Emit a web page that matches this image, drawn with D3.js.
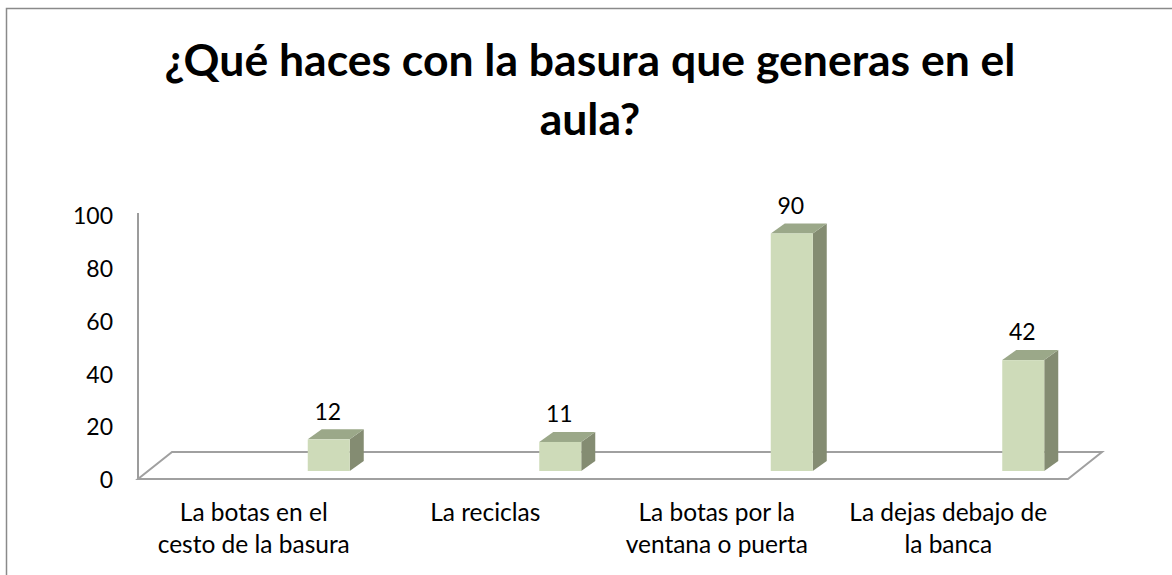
<!DOCTYPE html>
<html lang="es">
  <head>
    <meta charset="UTF-8" />
    <title>basura</title>
    <script src="https://cdn.jsdelivr.net/npm/d3@7"></script>
    <style>
      body { margin: 0; background: #fff; }
      text { font-family: Lato, 'Noto Sans', sans-serif; fill: #000; }
    </style>
  </head>
  <body>
    <svg width="1172" height="575"></svg>
  </body>

  <script>
    // datos del gráfico
    var categories = [
      'La botas en el cesto de la basura',
      'La reciclas',
      'La botas por la ventana o puerta',
      'La dejas debajo de la banca'
    ];
    var categoryLines = [
      ['La botas en el', 'cesto de la basura'],
      ['La reciclas'],
      ['La botas por la', 'ventana o puerta'],
      ['La dejas debajo de', 'la banca']
    ];
    var values = [12, 11, 90, 42];
    var yTicks = [0, 20, 40, 60, 80, 100];
    var titleLines = ['¿Qué haces con la basura que generas en el', 'aula?'];

    var svg = d3.select('svg');

    // marco exterior
    svg.append('rect')
      .attr('x', 6.5).attr('y', 8.5)
      .attr('width', 1300).attr('height', 700)
      .attr('fill', 'none')
      .attr('stroke', '#8a8a8a')
      .attr('stroke-width', 1.5);

    // titulo
    svg.append('text')
      .attr('text-anchor', 'middle')
      .attr('font-size', 44.5)
      .attr('font-weight', 'bold')
      .selectAll('tspan')
      .data(titleLines)
      .enter()
      .append('tspan')
      .attr('x', 590)
      .attr('y', function (d, i) { return 76 + i * 59; })
      .text(function (d) { return d; });

    // escalas
    var x = d3.scaleBand().domain(categories).range([138, 1064]);
    var y = d3.scaleLinear().domain([0, 100]).range([480, 216]);

    var depthX = 34, depthY = 27;  // profundidad del piso
    var front = y(0) - 1;          // borde frontal del piso

    // pared (eje vertical)
    svg.append('line')
      .attr('x1', 138).attr('x2', 138)
      .attr('y1', front).attr('y2', y(100) - 3)
      .attr('stroke', '#9c9c9c').attr('stroke-width', 2);

    // piso
    svg.append('path')
      .attr('d', d3.line()([
        [138, front], [1068, front],
        [1068 + depthX, front - depthY],
        [138 + depthX, front - depthY]
      ]) + 'Z')
      .attr('fill', 'none')
      .attr('stroke', '#a0a0a0')
      .attr('stroke-width', 2);

    // etiquetas eje y
    svg.append('g')
      .selectAll('text')
      .data(yTicks)
      .enter()
      .append('text')
      .attr('x', 113)
      .attr('y', function (d) { return y(d); })
      .attr('dy', '0.36em')
      .attr('text-anchor', 'end')
      .attr('font-size', 23)
      .text(function (d) { return d; });

    // barras 3d
    var barW = 42, barShift = 54, bx = 14, by = 10, lift = 9;
    var gs = svg.append('g')
      .selectAll('g')
      .data(values)
      .enter()
      .append('g');

    function barLeft(d, i) { return x(categories[i]) + x.bandwidth() / 2 + barShift; }
    function barTop(d) { return y(d) - lift; }

    gs.append('path') // lado
      .attr('fill', '#848c72')
      .attr('d', function (d, i) {
        var l = barLeft(d, i) + barW, t = barTop(d), b = y(0) - lift;
        return 'M' + l + ',' + t + 'L' + (l + bx) + ',' + (t - by) +
          'L' + (l + bx) + ',' + (b - by) + 'L' + l + ',' + b + 'Z';
      });
    gs.append('path') // tapa
      .attr('fill', '#9ba889')
      .attr('d', function (d, i) {
        var l = barLeft(d, i), t = barTop(d);
        return 'M' + l + ',' + t + 'L' + (l + bx) + ',' + (t - by) +
          'L' + (l + barW + bx) + ',' + (t - by) + 'L' + (l + barW) + ',' + t + 'Z';
      });
    gs.append('rect') // frente
      .attr('fill', '#cedbb9')
      .attr('x', barLeft)
      .attr('y', barTop)
      .attr('width', barW)
      .attr('height', function (d) { return y(0) - y(d); });

    // valores
    gs.append('text')
      .attr('x', function (d, i) { return barLeft(d, i) + barW / 2 - 1; })
      .attr('y', function (d) { return barTop(d) - 28; })
      .attr('dy', '0.36em')
      .attr('text-anchor', 'middle')
      .attr('font-size', 23)
      .text(function (d) { return d; });

    // etiquetas de categorias
    svg.append('g')
      .selectAll('text')
      .data(categoryLines)
      .enter()
      .append('text')
      .attr('text-anchor', 'middle')
      .attr('font-size', 24.5)
      .each(function (lines, i) {
        d3.select(this).selectAll('tspan')
          .data(lines)
          .enter()
          .append('tspan')
          .attr('x', x(categories[i]) + x.bandwidth() / 2)
          .attr('y', function (d, j) { return 521 + j * 32; })
          .text(function (d) { return d; });
      });
  </script>
</html>
